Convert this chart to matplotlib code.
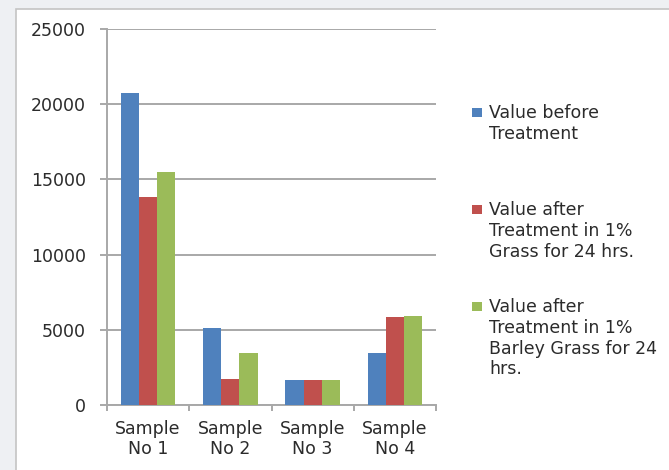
import matplotlib.pyplot as plt
import numpy as np
from matplotlib.patches import Rectangle

samples = ["Sample\nNo 1", "Sample\nNo 2", "Sample\nNo 3", "Sample\nNo 4"]
before = [20750, 5150, 1650, 3450]
after_grass = [13800, 1750, 1650, 5850]
after_barley = [15500, 3450, 1650, 5950]

series_labels = [
    "Value before\nTreatment",
    "Value after\nTreatment in 1%\nGrass for 24 hrs.",
    "Value after\nTreatment in 1%\nBarley Grass for 24\nhrs.",
]
colors = ["#4f81bd", "#c0504d", "#9bbb59"]
text_col = "#2b2b2b"
grid_col = "#a8a8a8"

W, H = 669, 470
fig = plt.figure(figsize=(W / 100, H / 100), dpi=100, facecolor="#eef0f3")

# white chart area with a thin grey frame on the top/left
fig.patches.append(Rectangle((16 / W, -0.1), 1.1, 1.1 - 9 / H, transform=fig.transFigure,
                             facecolor="white", edgecolor="#c4c4c4", linewidth=1.2, zorder=-1))

ax = fig.add_axes([107 / W, 1 - 405 / H, 329 / W, 376 / H])
ax.set_facecolor("none")

x = np.arange(len(samples))
w = 0.22
for i, vals in enumerate([before, after_grass, after_barley]):
    ax.bar(x + (i - 1) * w, vals, width=w, color=colors[i], zorder=3)

ax.set_xlim(-0.5, 3.5)
ax.set_ylim(0, 25000)
ax.set_yticks(np.arange(0, 25001, 5000))
ax.yaxis.grid(True, color=grid_col, linewidth=1.4, zorder=0)
ax.set_axisbelow(True)

for s in ["top", "right"]:
    ax.spines[s].set_visible(False)
for s in ["left", "bottom"]:
    ax.spines[s].set_color(grid_col)
    ax.spines[s].set_linewidth(1.4)

ax.tick_params(axis="y", length=5, width=1.4, color=grid_col, pad=10,
               labelsize=12.5, labelcolor=text_col)
ax.set_xticks(x)
ax.set_xticklabels(samples, linespacing=1.1)
ax.tick_params(axis="x", which="major", length=0, pad=11, labelsize=12.5, labelcolor=text_col)
ax.set_xticks(np.arange(-0.5, 3.6, 1), minor=True)
ax.tick_params(axis="x", which="minor", length=4, width=1.4, color=grid_col)

# legend drawn as squares plus wrapped text on the right
legend_rows = [112, 209, 306]
for lab, col, yc in zip(series_labels, colors, legend_rows):
    fig.patches.append(Rectangle((472 / W, 1 - (yc + 5) / H), 10 / W, 9 / H,
                                 transform=fig.transFigure, facecolor=col, edgecolor="none"))
    fig.text(489 / W, 1 - (yc - 8) / H, lab, ha="left", va="top", fontsize=12.5,
             color=text_col, linespacing=1.2)

fig.savefig("out.png", dpi=100, facecolor=fig.get_facecolor())
